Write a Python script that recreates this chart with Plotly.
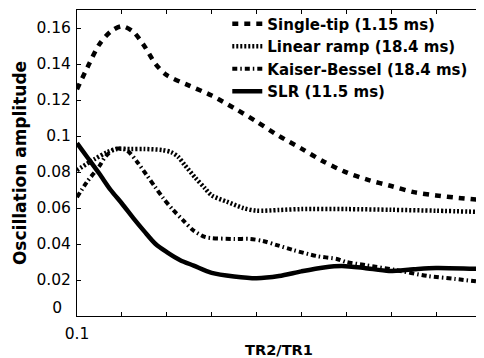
import plotly.graph_objects as go

# ---- data ----
st_x = [0.10, 0.125, 0.15, 0.175, 0.20, 0.225, 0.25, 0.275, 0.30, 0.35, 0.40, 0.45, 0.50,
        0.55, 0.60, 0.65, 0.70, 0.75, 0.80, 0.85, 0.90, 0.95, 1.00]
st_y = [0.126, 0.139, 0.151, 0.158, 0.161, 0.158, 0.150, 0.140, 0.1338, 0.128, 0.1225, 0.1155,
        0.108, 0.100, 0.093, 0.0857, 0.0798, 0.0755, 0.0722, 0.0688, 0.067, 0.0656, 0.0644]

lr_x = [0.10, 0.138, 0.167, 0.189, 0.22, 0.25, 0.29, 0.31, 0.325, 0.34, 0.363, 0.385, 0.40,
        0.434, 0.47, 0.50, 0.55, 0.60, 0.70, 0.80, 0.90, 1.00]
lr_y = [0.081, 0.087, 0.091, 0.0928, 0.0928, 0.0928, 0.0922, 0.091, 0.0885, 0.0839, 0.077,
        0.071, 0.067, 0.0635, 0.060, 0.0585, 0.0589, 0.0594, 0.0594, 0.059, 0.0585, 0.0578]

kb_x = [0.10, 0.122, 0.149, 0.165, 0.187, 0.211, 0.234, 0.256, 0.274, 0.292, 0.314, 0.336,
        0.358, 0.385, 0.40, 0.45, 0.485, 0.514, 0.545, 0.581, 0.634, 0.679, 0.70, 0.742,
        0.808, 0.882, 0.942, 1.00]
kb_y = [0.066, 0.0744, 0.083, 0.089, 0.093, 0.092, 0.0856, 0.078, 0.0717, 0.0655, 0.0589,
        0.0533, 0.0478, 0.0439, 0.0433, 0.0428, 0.0428, 0.0417, 0.0394, 0.0367, 0.0333,
        0.0317, 0.030, 0.0283, 0.0256, 0.0222, 0.0206, 0.0189]

slr_x = [0.10, 0.125, 0.15, 0.175, 0.20, 0.225, 0.25, 0.275, 0.30, 0.33, 0.36, 0.40, 0.45,
         0.50, 0.55, 0.60, 0.65, 0.69, 0.74, 0.795, 0.85, 0.90, 1.00]
slr_y = [0.096, 0.0875, 0.079, 0.070, 0.0625, 0.0545, 0.047, 0.040, 0.0355, 0.031, 0.028,
         0.024, 0.022, 0.021, 0.0222, 0.0248, 0.027, 0.0278, 0.0267, 0.025, 0.026, 0.0267, 0.0261]

names = ["Single-tip (1.15 ms)", "Linear ramp (18.4 ms)", "Kaiser-Bessel (18.4 ms)", "SLR (11.5 ms)"]

x_ticks = [0.1, 0.2, 0.3, 0.4, 0.5, 0.6, 0.7, 0.8, 0.9, 1.0]
x_ticktext = ["0.1", "", "", "", "", "", "", "", "", "1"]
y_ticks = [0, 0.02, 0.04, 0.06, 0.08, 0.1, 0.12, 0.14, 0.16]
y_ticktext = ["", "0.02", "0.04", "0.06", "0.08", "0.1", "0.12", "0.14", "0.16"]
y_zero_tick = [0]
y_range = [0, 0.17]

# ---- figure ----
fig = go.Figure()
series = [
    (st_x, st_y, dict(color="black", width=4.5, dash="6px,6px")),
    (lr_x, lr_y, dict(color="black", width=4.5, dash="2px,2px")),
    (kb_x, kb_y, dict(color="black", width=4, dash="5px,3px,1.5px,3px")),
    (slr_x, slr_y, dict(color="black", width=4.5)),
]
for (xs, ys, ln), nm in zip(series, names):
    fig.add_trace(go.Scatter(x=xs, y=ys, mode="lines", name=nm,
                             line=dict(shape="spline", smoothing=0.8, **ln)))
# empty helper trace so the overlay axis (carrying the lifted "0" label) is drawn
fig.add_trace(go.Scatter(x=[], y=[], yaxis="y2", showlegend=False, hoverinfo="skip"))

# the page body has an 8px margin, so the figure is sized/offset to compensate
fig.update_layout(
    width=476, height=350,
    margin=dict(l=69, r=3, t=2, b=42, autoexpand=False),
    paper_bgcolor="white", plot_bgcolor="white",
    font=dict(family="DejaVu Sans", color="black", size=15),
    showlegend=True,
    legend=dict(x=0.372, y=1.0085, xanchor="left", yanchor="top",
                bgcolor="rgba(0,0,0,0)", borderwidth=0,
                font=dict(family="DejaVu Sans", size=15, color="black", weight="bold"),
                tracegroupgap=0),
    yaxis2=dict(overlaying="y", side="left", range=y_range, tickvals=y_zero_tick,
                ticks="", showline=False, showgrid=False, zeroline=False,
                automargin=False, tickfont=dict(size=15.5), ticklabelstandoff=14,
                ticklabelshift=-8),
)
fig.update_xaxes(
    range=[0.1, 1.0], tickvals=x_ticks, ticktext=x_ticktext,
    ticks="inside", ticklen=4, tickcolor="black", tickwidth=1,
    showline=True, linecolor="black", linewidth=1, mirror="ticks",
    showgrid=False, zeroline=False, automargin=False,
    tickfont=dict(size=15.5), ticklabelstandoff=3, ticklabeloverflow="allow",
    title=dict(text="TR2/TR1", font=dict(size=14.6, weight="bold"), standoff=4),
)
fig.layout.yaxis.update(
    range=y_range, tickvals=y_ticks, ticktext=y_ticktext,
    ticks="inside", ticklen=4, tickcolor="black", tickwidth=1,
    showline=True, linecolor="black", linewidth=1, mirror="ticks",
    showgrid=False, zeroline=False, automargin=False,
    tickfont=dict(size=15.5), ticklabelstandoff=2,
    title=dict(text="Oscillation amplitude", font=dict(size=17, weight="bold"), standoff=5),
)

fig.write_html("out.html")
